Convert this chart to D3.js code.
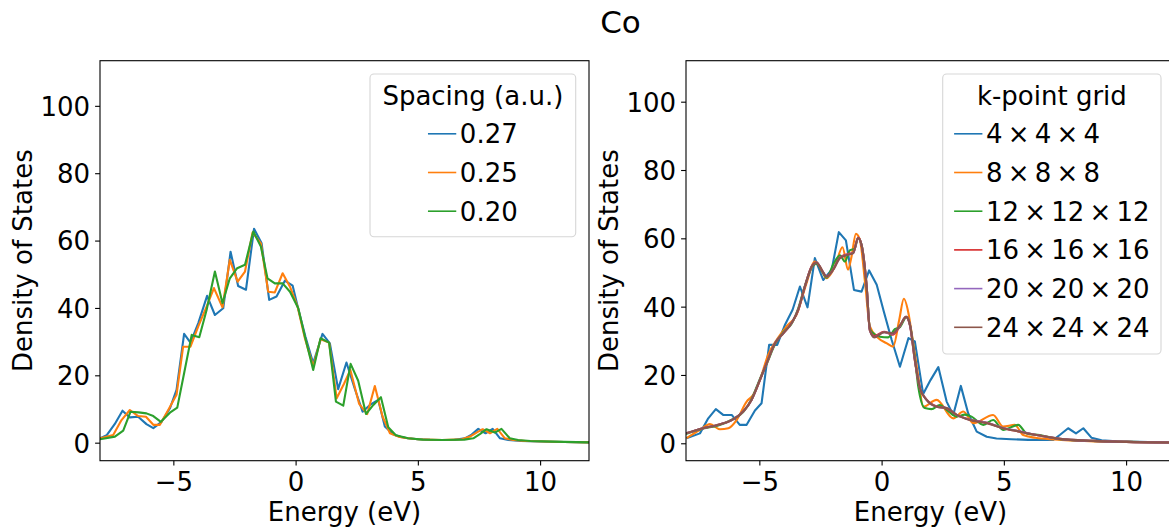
<!DOCTYPE html>
<html>
<head>
<meta charset="utf-8">
<script src="https://cdn.jsdelivr.net/npm/d3@7/dist/d3.min.js"></script>
<style>
  html, body { margin: 0; padding: 0; background: #fff; }
  svg { display: block; }
  text { font-family: "DejaVu Sans", sans-serif; fill: #000; }
</style>
</head>
<body>
<script>
// ---------- axis ranges and ticks ----------
const energyLimits = [-8, 12];
const energyTicks = [-5, 0, 5, 10];
const dosTicks = [0, 20, 40, 60, 80, 100];

// ---------- left panel: real-space grid spacing ----------
const spacingLabels = ["0.27", "0.25", "0.20"];

const energy027 = [-8.0,-7.73,-7.4,-7.08,-6.78,-6.44,-6.1,-5.82,-5.48,-5.14,-4.87,-4.56,-4.3,-3.98,-3.62,-3.3,-2.96,-2.66,-2.35,-2.03,-1.7,-1.39,-1.08,-0.78,-0.44,-0.12,0.1,0.4,0.72,1.1,1.4,1.74,2.08,2.42,2.74,3.04,3.38,3.65,3.99,4.3,4.6,5.0,5.5,6.0,6.5,6.92,7.2,7.47,7.77,8.06,8.36,8.7,9.2,10.0,11.0,12.0];
const dos027 = [1.3,2.2,5.5,9.5,7.5,7.7,5.5,4.3,6.2,10.2,15.7,32.3,29.7,35.5,43.6,37.9,39.9,56.7,46.5,45.4,63.5,59.2,42.4,43.4,48.1,46.6,40.0,31.5,23.6,32.3,29.5,15.9,23.8,16.0,9.2,11.2,12.7,4.8,2.5,1.7,1.3,1.0,0.85,0.8,0.85,1.3,2.4,4.1,2.8,4.1,1.3,0.8,0.5,0.35,0.2,0.1];

const energy025 = [-8.0,-7.46,-7.12,-6.78,-6.44,-6.12,-5.82,-5.55,-5.21,-4.87,-4.6,-4.3,-3.98,-3.64,-3.34,-2.99,-2.69,-2.37,-2.07,-1.76,-1.42,-1.12,-0.85,-0.53,-0.23,0.08,0.38,0.72,1.02,1.37,1.68,1.98,2.24,2.6,2.93,3.24,3.56,3.86,4.2,4.5,5.0,6.0,6.8,7.13,7.4,7.65,7.95,8.25,8.56,8.9,9.4,10.2,11.0,12.0];
const dos025 = [1.3,2.3,6.7,9.7,7.9,7.7,5.3,5.3,9.7,14.2,28.5,28.5,34.5,40.4,45.9,40.2,54.3,47.8,50.8,62.4,59.2,44.8,44.6,50.3,46.3,40.4,31.0,22.6,30.7,29.7,13.2,17.5,21.6,11.5,8.5,16.8,7.7,2.8,1.8,1.4,1.0,0.8,1.0,1.8,3.0,4.0,2.8,4.1,1.3,0.8,0.5,0.35,0.2,0.1];

const energy020 = [-8.0,-7.39,-7.05,-6.75,-6.42,-6.1,-5.82,-5.51,-5.14,-4.84,-4.55,-4.25,-3.94,-3.64,-3.3,-2.99,-2.69,-2.39,-2.07,-1.73,-1.42,-1.15,-0.85,-0.53,-0.23,0.11,0.38,0.72,1.02,1.37,1.65,1.95,2.25,2.56,2.88,3.18,3.49,3.79,4.1,4.6,5.2,6.0,6.9,7.27,7.55,7.81,8.15,8.42,8.76,9.1,9.6,10.5,12.0];
const dos020 = [1.0,1.8,3.6,9.2,9.0,8.7,7.9,6.2,8.9,10.4,21.0,32.0,31.3,39.4,50.8,41.4,48.8,51.8,52.8,62.7,58.2,48.8,47.3,47.3,44.8,39.9,31.5,21.6,31.0,29.7,12.2,11.0,23.4,18.4,8.5,11.2,13.5,4.6,2.2,1.3,0.9,0.8,0.9,1.3,2.6,4.0,3.0,4.1,1.3,0.8,0.5,0.3,0.1];

// ---------- right panel: k-point sampling ----------
const kpointLabels = ["4\u2009\u00d7\u20094\u2009\u00d7\u20094", "8\u2009\u00d7\u20098\u2009\u00d7\u20098",
  "12\u2009\u00d7\u200912\u2009\u00d7\u200912", "16\u2009\u00d7\u200916\u2009\u00d7\u200916",
  "20\u2009\u00d7\u200920\u2009\u00d7\u200920", "24\u2009\u00d7\u200924\u2009\u00d7\u200924"];

const energyK4 = [-7.98,-7.43,-7.09,-6.78,-6.48,-6.13,-5.8,-5.52,-5.18,-4.91,-4.6,-4.27,-3.95,-3.64,-3.34,-3.03,-2.73,-2.39,-2.04,-1.75,-1.46,-1.13,-0.82,-0.51,-0.2,0.09,0.41,0.75,1.1,1.36,1.7,2.0,2.32,2.66,2.93,3.24,3.54,3.89,4.3,4.7,5.3,6.0,7.02,7.3,7.63,7.95,8.25,8.59,9.0,9.6,10.5,12.0];
const dosK4 = [1.5,2.9,7.3,10.0,8.3,8.3,5.4,5.4,9.6,11.7,28.8,28.8,34.7,39.1,45.9,39.8,54.2,47.8,50.8,61.8,59.4,44.9,44.4,50.6,46.4,38.6,30.3,22.4,30.8,29.8,14.4,18.5,22.3,12.2,8.3,16.8,8.8,3.4,1.9,1.4,1.2,1.0,1.0,2.5,4.4,2.9,4.4,1.6,0.9,0.6,0.4,0.2];

const energyK8 = [-7.98,-7.43,-7.02,-6.61,-6.27,-5.93,-5.52,-5.25,-4.98,-4.64,-4.29,-3.89,-3.48,-3.07,-2.73,-2.52,-2.25,-1.91,-1.6,-1.37,-1.23,-1.05,-0.89,-0.68,-0.48,-0.14,0.2,0.47,0.72,0.91,1.1,1.23,1.5,1.7,2.25,2.93,3.34,3.75,4.56,4.97,5.45,5.79,6.3,7.07,8.5,10.0,12.0];
const dosK8 = [1.5,3.9,5.6,4.1,4.4,6.8,12.2,14.2,18.5,25.9,30.3,34.2,37.6,46.9,53.2,51.7,48.3,51.7,57.4,50.8,54.7,61.3,59.6,47.3,34.2,30.8,29.3,28.3,36.1,42.3,38.0,32.2,19.5,10.7,12.7,7.3,9.3,5.9,8.3,4.9,5.4,2.4,1.6,1.1,0.6,0.4,0.2];

const energyK12 = [-8.0,-7.3,-6.68,-6.13,-5.66,-5.32,-4.98,-4.7,-4.36,-4.02,-3.68,-3.41,-3.14,-2.86,-2.66,-2.45,-2.25,-1.97,-1.7,-1.5,-1.3,-1.1,-0.96,-0.82,-0.61,-0.48,-0.34,-0.07,0.27,0.54,0.75,1.02,1.18,1.36,1.5,1.77,2.04,2.38,2.66,3.07,3.4,3.68,4.16,4.56,4.97,5.59,5.93,6.47,7.2,8.6,10.0,12.0];
const dosK12 = [2.7,4.3,5.2,6.9,9.1,12.9,18.8,23.2,29.0,32.5,35.0,39.5,46.0,51.4,52.6,50.5,48.5,52.5,55.0,53.2,56.5,57.0,60.1,58.1,45.5,33.5,32.2,31.2,31.0,33.4,34.0,37.0,34.0,25.0,16.6,10.3,10.0,11.2,9.8,7.8,8.4,7.8,5.4,6.8,3.9,5.4,2.9,2.4,1.3,0.7,0.4,0.2];

// the three densest k-meshes share one energy grid
const energyKFine = [-8,-7.3,-6.68,-6.13,-5.66,-5.32,-4.98,-4.7,-4.36,-4.02,-3.68,-3.41,-3.14,-2.86,-2.66,-2.45,-2.25,-1.98,-1.71,-1.37,-1.16,-0.96,-0.82,-0.61,-0.48,-0.3,0.1,0.45,0.75,1.0,1.16,1.36,1.57,1.84,2.25,2.66,3.07,3.61,4.3,4.97,5.66,6.34,7.29,8.65,10,12];
const dosK16 = [2.9,4.4,5.4,6.8,9.3,12.7,18.4,23.5,29.2,32.2,35.2,39.0,45.8,51.8,52.9,50.7,48.9,50.9,54.3,55.4,55.8,60.2,58.0,45.8,33.0,31.4,32.6,31.8,34.3,37.0,34.5,24.2,16.0,12.8,10.8,10.2,8.3,6.9,6.0,4.4,3.4,2.4,1.3,0.7,0.4,0.2];
const dosK20 = [2.9,4.4,5.4,6.8,9.3,12.7,18.5,23.4,29.3,32.2,35.2,39.1,45.9,51.7,52.9,50.8,48.8,50.8,54.2,55.3,55.7,60.1,58.1,45.9,33.1,31.1,32.5,32.1,34.4,37.0,34.6,24.4,16.1,12.7,10.7,10.3,8.3,6.9,6.0,4.5,3.5,2.4,1.3,0.7,0.4,0.2];
const dosK24 = [2.9,4.4,5.4,6.8,9.3,12.7,18.5,23.4,29.3,32.2,35.2,39.1,45.9,51.7,52.9,50.8,48.8,50.8,54.2,55.2,55.7,60.1,58.1,45.9,33.2,31.0,32.5,32.2,34.5,37.0,34.7,24.4,16.1,12.7,10.7,10.3,8.3,6.8,5.9,4.4,3.4,2.4,1.3,0.7,0.4,0.2];

const palette = ["#1f77b4", "#ff7f0e", "#2ca02c", "#d62728", "#9467bd", "#8c564b"];

// ---------- figure ----------
const W = 1169, H = 529, FS = 26;
const svg = d3.select("body").append("svg").attr("width", W).attr("height", H);

svg.append("text")
  .attr("x", 620.5).attr("y", 33.3)
  .attr("text-anchor", "middle")
  .style("font-size", "31px")
  .text("Co");

const zip = (xs, ys) => xs.map((e, i) => [e, ys[i]]);
const fmtTick = d => (d < 0 ? "\u2212" + Math.abs(d) : String(d));

const panels = [
  {
    id: "spacing", left: 100, yLimits: [-5.35, 113.4], yLabelX: 31.7,
    series: [
      { label: spacingLabels[0], pts: zip(energy027, dos027), color: palette[0], smooth: false },
      { label: spacingLabels[1], pts: zip(energy025, dos025), color: palette[1], smooth: false },
      { label: spacingLabels[2], pts: zip(energy020, dos020), color: palette[2], smooth: false }
    ],
    legend: { title: "Spacing (a.u.)", x: 370, y: 74, w: 205.7, h: 162.7 }
  },
  {
    id: "kpts", left: 686, yLimits: [-5.1, 112.0], yLabelX: 618.3,
    series: [
      { label: kpointLabels[0], pts: zip(energyK4, dosK4), color: palette[0], smooth: false },
      { label: kpointLabels[1], pts: zip(energyK8, dosK8), color: palette[1], smooth: true },
      { label: kpointLabels[2], pts: zip(energyK12, dosK12), color: palette[2], smooth: true },
      { label: kpointLabels[3], pts: zip(energyKFine, dosK16), color: palette[3], smooth: true },
      { label: kpointLabels[4], pts: zip(energyKFine, dosK20), color: palette[4], smooth: true },
      { label: kpointLabels[5], pts: zip(energyKFine, dosK24), color: palette[5], smooth: true }
    ],
    legend: { title: "k-point grid", x: 942.7, y: 74, w: 218.3, h: 280 }
  }
];

const TOP = 60.7, BOTTOM = 460.7, PW = 489;

panels.forEach(p => {
  const x = d3.scaleLinear().domain(energyLimits).range([p.left, p.left + PW]);
  const y = d3.scaleLinear().domain(p.yLimits).range([BOTTOM, TOP]);
  const g = svg.append("g");

  g.append("clipPath").attr("id", "clip-" + p.id)
    .append("rect").attr("x", p.left).attr("y", TOP).attr("width", PW).attr("height", BOTTOM - TOP);

  const plot = g.append("g").attr("clip-path", `url(#clip-${p.id})`);
  p.series.forEach(s => {
    const line = d3.line()
      .x(d => x(d[0])).y(d => y(d[1]))
      .curve(s.smooth ? d3.curveMonotoneX : d3.curveLinear);
    plot.append("path")
      .attr("d", line(s.pts))
      .attr("fill", "none")
      .attr("stroke", s.color)
      .attr("stroke-width", 2.1)
      .attr("stroke-linejoin", "round")
      .attr("stroke-linecap", "butt");
  });

  // x axis
  const gx = g.append("g")
    .attr("transform", `translate(0,${BOTTOM})`)
    .call(d3.axisBottom(x).tickValues(energyTicks).tickFormat(fmtTick).tickSize(4.9).tickPadding(6.6));
  // y axis
  const gy = g.append("g")
    .attr("transform", `translate(${p.left},0)`)
    .call(d3.axisLeft(y).tickValues(dosTicks).tickSize(4.9).tickPadding(5));
  [gx, gy].forEach(a => {
    a.select(".domain").remove();
    a.attr("font-size", FS).attr("font-family", '"DejaVu Sans", sans-serif');
    a.selectAll(".tick line").attr("stroke", "#000").attr("stroke-width", 1.1);
    a.selectAll(".tick text").attr("fill", "#000");
  });
  gy.selectAll(".tick text").attr("dy", "0.36em");

  // frame
  g.append("rect")
    .attr("x", p.left).attr("y", TOP).attr("width", PW).attr("height", BOTTOM - TOP)
    .attr("fill", "none").attr("stroke", "#000").attr("stroke-width", 1.1);

  // axis titles
  g.append("text")
    .attr("x", p.left + PW / 2).attr("y", 520.6)
    .attr("text-anchor", "middle").style("font-size", FS + "px")
    .text("Energy (eV)");
  g.append("text")
    .attr("transform", `translate(${p.yLabelX},${(TOP + BOTTOM) / 2}) rotate(-90)`)
    .attr("text-anchor", "middle").style("font-size", FS + "px")
    .text("Density of States");

  // legend
  const L = p.legend;
  const lg = g.append("g");
  lg.append("rect")
    .attr("x", L.x).attr("y", L.y).attr("width", L.w).attr("height", L.h)
    .attr("rx", 4).attr("ry", 4)
    .attr("fill", "#fff").attr("fill-opacity", 0.8)
    .attr("stroke", "#cccccc").attr("stroke-opacity", 0.8).attr("stroke-width", 1.1);
  const cx = L.x + L.w / 2;
  lg.append("text")
    .attr("x", cx).attr("y", 105)
    .attr("text-anchor", "middle").style("font-size", FS + "px")
    .text(L.title);

  const HANDLE = 28.3, GAP = 3.6, ROW = 38.7, FIRST = 143.3;
  const labels = p.series.map((s, i) =>
    lg.append("text").attr("y", FIRST + i * ROW).style("font-size", FS + "px").text(s.label));
  const maxW = d3.max(labels, t => t.node().getComputedTextLength());
  const x0 = cx - (HANDLE + GAP + maxW) / 2;
  p.series.forEach((s, i) => {
    const base = FIRST + i * ROW;
    lg.append("line")
      .attr("x1", x0).attr("x2", x0 + HANDLE)
      .attr("y1", base - 9.5).attr("y2", base - 9.5)
      .attr("stroke", s.color).attr("stroke-width", 1.6);
    labels[i].attr("x", x0 + HANDLE + GAP);
  });
});
</script>
</body>
</html>
